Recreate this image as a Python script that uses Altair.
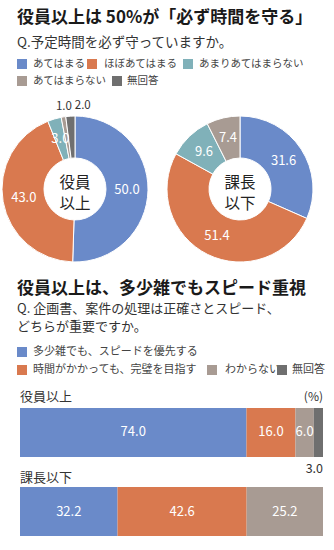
import math
import altair as alt
import pandas as pd

# ---------------- data ----------------
q1_categories = ["あてはまる", "ほぼあてはまる", "あまりあてはまらない", "あてはまらない", "無回答"]
q1_exec = [50.0, 43.0, 3.0, 1.0, 2.0]
q1_mgr = [31.6, 51.4, 9.6, 7.4, 0.0]
q1_exec_outside = ["あてはまらない", "無回答"]   # labels drawn outside the ring

q2_categories = ["多少雑でも、スピードを優先する", "時間がかかっても、完璧を目指す", "わからない", "無回答"]
groups = ["役員以上", "課長以下"]
q2_exec = [74.0, 16.0, 6.0, 3.0]
q2_mgr = [32.2, 42.6, 25.2, 0.0]
q2_exec_outside = ["無回答"]

# ---------------- style ----------------
FONT = "Noto Sans CJK JP"
BLUE, ORANGE, TEAL, TAUPE, GREY = "#6A8AC9", "#D9794F", "#80B1B9", "#A89B93", "#6F6F6F"
color_domain = q1_categories + q2_categories[:3]
color_range = [BLUE, ORANGE, TEAL, TAUPE, GREY, BLUE, ORANGE, TAUPE]
color_scale = alt.Scale(domain=color_domain, range=color_range)
theta_scale = alt.Scale(domain=[0, 1], range=[0, 2 * math.pi])
x_scale = alt.Scale(domain=[0, 1], range=[20, 323], nice=False, zero=False)
y_scale = alt.Scale(domain=groups, range=[408, 536], paddingInner=0.38, paddingOuter=0)


def shares(cats, vals, outside):
    total = sum(vals)
    rows, cum = [], 0.0
    for c, v in zip(cats, vals):
        if v <= 0:
            continue
        rows.append(dict(cat=c, value=v, start=cum / total, end=(cum + v) / total,
                         mid=(cum + v / 2) / total, lab=f"{v:.1f}",
                         pos="out" if c in outside else "in"))
        cum += v
    return pd.DataFrame(rows)


d_exec = shares(q1_categories, q1_exec, q1_exec_outside)
d_mgr = shares(q1_categories, q1_mgr, [])

b_exec = shares(q2_categories, q2_exec, q2_exec_outside)
b_exec["group"] = groups[0]
b_mgr = shares(q2_categories, q2_mgr, [])
b_mgr["group"] = groups[1]
bars_df = pd.concat([b_exec, b_mgr], ignore_index=True)

one = pd.DataFrame({"a": [0]})
layers = []


def text(x, y, s, size, color="#333", weight="normal", align="left"):
    return alt.Chart(one).mark_text(
        font=FONT, fontSize=size, fontWeight=weight, color=color, align=align, baseline="middle"
    ).encode(x=alt.value(x), y=alt.value(y), text=alt.value(s))


def legend_item(cx, tx, y, label, color, size=10.5):
    sq = alt.Chart(one).mark_square(size=100, color=color, opacity=1).encode(
        x=alt.value(cx), y=alt.value(y))
    return [sq, text(tx, y, label, size, "#444")]


# ---------------- section 1 ----------------
layers.append(text(17, 18, "役員以上は 50%が「必ず時間を守る」", 17, "#1a1a1a", "bold"))
layers.append(text(17, 43, "Q.予定時間を必ず守っていますか。", 13.5, "#333"))
layers += legend_item(22, 33, 64, q1_categories[0], BLUE)
layers += legend_item(92, 104, 64, q1_categories[1], ORANGE)
layers += legend_item(188, 199, 64, q1_categories[2], TEAL)
layers += legend_item(22, 33, 81, q1_categories[3], TAUPE)
layers += legend_item(117, 127, 81, q1_categories[4], GREY)


def donut(df, cx, cy, line1, line2, out_dx):
    out = []
    out.append(alt.Chart(df).mark_arc(innerRadius=31, outerRadius=73, stroke="white", strokeWidth=1).encode(
        theta=alt.Theta("start:Q", scale=theta_scale),
        theta2="end:Q",
        color=alt.Color("cat:N", scale=color_scale, legend=None),
        x=alt.value(cx), y=alt.value(cy)))
    out.append(alt.Chart(df).transform_filter(alt.datum.pos == "in").mark_text(
        radius=52, font=FONT, fontSize=13, color="white", baseline="middle").encode(
        theta=alt.Theta("mid:Q", scale=theta_scale), text="lab:N",
        x=alt.value(cx), y=alt.value(cy)))
    outs = df[df["pos"] == "out"]["cat"].tolist()
    for c, dx in zip(outs, out_dx):
        out.append(alt.Chart(df).transform_filter(alt.datum.cat == c).mark_text(
            radius=83, dx=dx, font=FONT, fontSize=11.5, color="#333", baseline="middle").encode(
            theta=alt.Theta("mid:Q", scale=theta_scale), text="lab:N",
            x=alt.value(cx), y=alt.value(cy)))
    out.append(text(cx, cy - 6, line1, 15.5, "#222", align="center"))
    out.append(text(cx, cy + 15, line2, 15.5, "#222", align="center"))
    return out


layers += donut(d_exec, 75, 189, "役員", "以上", [2, 13])
layers += donut(d_mgr, 240, 189, "課長", "以下", [])

# ---------------- section 2 ----------------
layers.append(text(17, 289, "役員以上は、多少雑でもスピード重視", 17, "#1a1a1a", "bold"))
layers.append(text(17, 309, "Q. 企画書、案件の処理は正確さとスピード、", 13, "#333"))
layers.append(text(17, 327, "どちらが重要ですか。", 13, "#333"))
layers += legend_item(22, 33, 352, q2_categories[0], BLUE, 11)
layers += legend_item(22, 33, 370, q2_categories[1], ORANGE, 11)
layers += legend_item(212, 225, 370, q2_categories[2], TAUPE, 11)
layers += legend_item(282, 292, 370, q2_categories[3], GREY, 11)

layers.append(text(20, 397, groups[0], 13, "#333"))
layers.append(text(20, 478, groups[1], 13, "#333"))
layers.append(text(323, 397, "(%)", 12, "#333", align="right"))

layers.append(alt.Chart(bars_df).mark_bar().encode(
    x=alt.X("start:Q", scale=x_scale, axis=None),
    x2="end:Q",
    y=alt.Y("group:N", scale=y_scale, axis=None),
    color=alt.Color("cat:N", scale=color_scale, legend=None)))
layers.append(alt.Chart(bars_df).transform_filter(alt.datum.pos == "in").mark_text(
    font=FONT, fontSize=13, color="white", baseline="middle").encode(
    x=alt.X("mid:Q", scale=x_scale, axis=None),
    y=alt.Y("group:N", scale=y_scale, axis=None),
    text="lab:N"))
layers.append(alt.Chart(bars_df).transform_filter(alt.datum.pos == "out").mark_text(
    font=FONT, fontSize=12.5, color="#333", baseline="middle", align="right", dy=37).encode(
    x=alt.X("end:Q", scale=x_scale, axis=None),
    y=alt.Y("group:N", scale=y_scale, axis=None),
    text="lab:N"))

chart = alt.layer(*layers).properties(
    width=334, height=550, padding=0, autosize=alt.AutoSizeParams(type="none"),
    background="white",
).configure_view(stroke="transparent")

chart.save("out.html", embed_options={"renderer": "svg", "actions": False})
